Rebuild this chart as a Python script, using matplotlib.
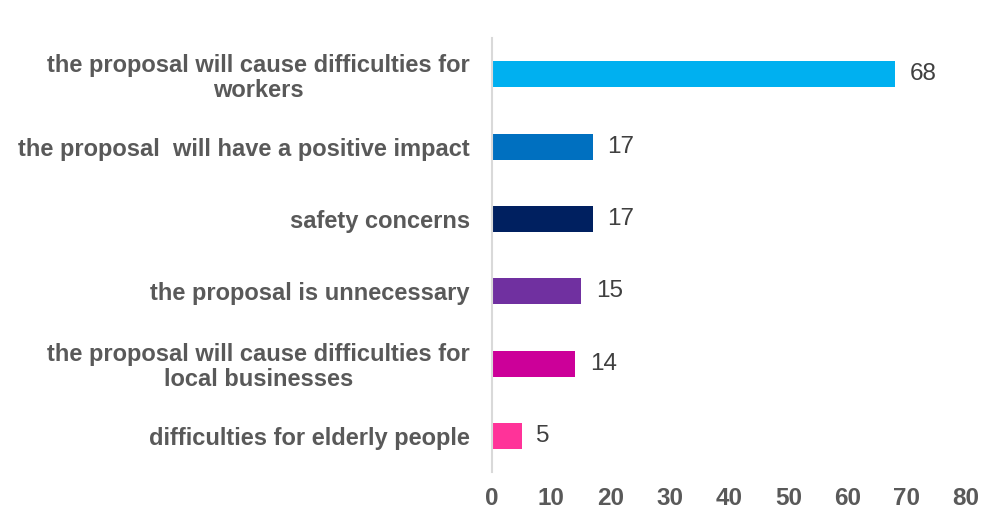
import matplotlib.pyplot as plt

categories = [
    "the proposal will cause difficulties for\nworkers",
    "the proposal  will have a positive impact",
    "safety concerns",
    "the proposal is unnecessary",
    "the proposal will cause difficulties for\nlocal businesses",
    "difficulties for elderly people",
]
values = [68, 17, 17, 15, 14, 5]
colors = ["#00B0F0", "#0070C0", "#002060", "#7030A0", "#CC0099", "#FF3399"]
x_ticks = [0, 10, 20, 30, 40, 50, 60, 70, 80]

plt.rcParams['font.family'] = ['Liberation Sans', 'DejaVu Sans']

fig = plt.figure(figsize=(9.97, 5.23), dpi=100)
ax = fig.add_axes([0.4935, 0.0975, 0.4755, 0.8295])

pos = list(range(len(categories)))
ax.barh(pos, values, height=0.36, color=colors)
ax.set_ylim(len(categories) - 0.5, -0.5)
ax.set_xlim(0, 80)

for p, v in zip(pos, values):
    ax.text(v + 2.5, p, str(v), va='center', ha='left', fontsize=17.5, color='#404040')

ax.set_yticks(pos)
ax.set_yticklabels(categories, fontsize=17, fontweight='bold', color='#595959',
                   multialignment='center', linespacing=1.1)
ax.set_xticks(x_ticks)
ax.set_xticklabels([str(t) for t in x_ticks], fontsize=17.5, fontweight='bold', color='#595959')
ax.tick_params(axis='both', length=0)
ax.tick_params(axis='x', pad=11)
ax.tick_params(axis='y', pad=16)

for s in ['top', 'right', 'bottom']:
    ax.spines[s].set_visible(False)
ax.spines['left'].set_color('#D9D9D9')
ax.spines['left'].set_linewidth(1.5)

fig.savefig('out.png', dpi=100)
